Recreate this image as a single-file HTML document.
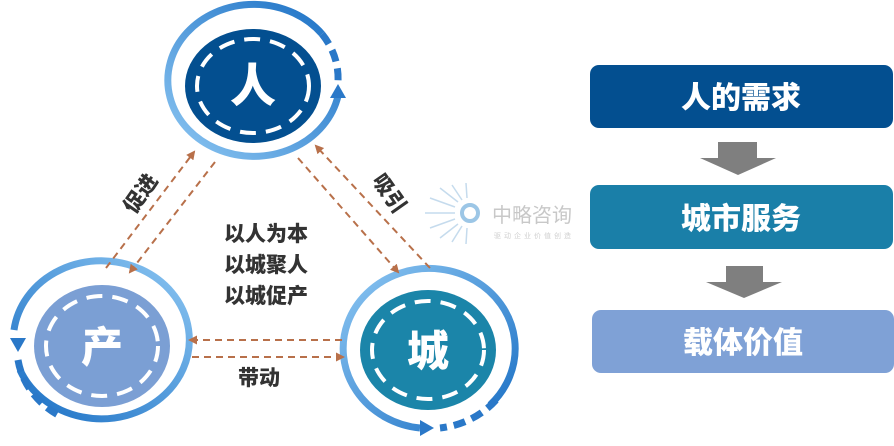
<!DOCTYPE html>
<html><head><meta charset="utf-8"><style>
html,body{margin:0;padding:0;background:#fff;width:894px;height:446px;overflow:hidden}
svg text{font-family:"Liberation Sans","Noto Sans CJK SC",sans-serif;font-weight:900}
</style></head><body>
<svg width="894" height="446" viewBox="0 0 894 446" xmlns="http://www.w3.org/2000/svg">
<defs>
<linearGradient id="g1" x1="0" y1="0" x2="1" y2="1"><stop offset="0" stop-color="#8cc6f2"/><stop offset="1" stop-color="#1a6fc4"/></linearGradient>
<linearGradient id="g2" x1="1" y1="0" x2="0" y2="1"><stop offset="0" stop-color="#8cc6f2"/><stop offset="1" stop-color="#1a6fc4"/></linearGradient>
<linearGradient id="g3" x1="0" y1="1" x2="1" y2="0"><stop offset="0" stop-color="#8cc6f2"/><stop offset="1" stop-color="#1a6fc4"/></linearGradient>
<marker id="ah" markerWidth="9" markerHeight="9" refX="7" refY="4.5" orient="auto" markerUnits="userSpaceOnUse"><path d="M0,0 L9,4.5 L0,9 z" fill="#b8704a"/></marker>
</defs>

<!-- 人 -->
<path d="M322,34 A86,76 0 1,0 338,96" fill="none" stroke="url(#g3)" stroke-width="7"/>
<path d="M322,34 A86,76 0 0,1 338,82" fill="none" stroke="#2a78c8" stroke-width="7" stroke-dasharray="12,7"/>
<path d="M330,84 L346,84 L338,98 z" fill="#2a78c8" transform="rotate(180 338 91)"/>
<ellipse cx="253" cy="86" rx="68" ry="57" fill="#034f90"/>
<ellipse cx="253" cy="86" rx="56" ry="47" fill="none" stroke="#fff" stroke-width="4" stroke-dasharray="16,10"/>
<text x="253" y="102" font-size="46" fill="#fff" text-anchor="middle">人</text>

<!-- 产 -->
<path d="M14,330 A88,79 0 1,1 20,370" fill="none" stroke="url(#g2)" stroke-width="7"/>
<path d="M18,360 A88,79 0 0,0 60,416" fill="none" stroke="#2a78c8" stroke-width="7" stroke-dasharray="12,7"/>
<path d="M10,338 L26,338 L18,352 z" fill="#2a78c8"/>
<ellipse cx="102" cy="346" rx="68" ry="61" fill="#7b9fd4"/>
<ellipse cx="102" cy="346" rx="56" ry="50" fill="none" stroke="#fff" stroke-width="4" stroke-dasharray="16,10"/>
<text x="102" y="362" font-size="42" fill="#fff" text-anchor="middle">产</text>

<!-- 城 -->
<path d="M420,428 A86,80 0 1,1 490,405" fill="none" stroke="url(#g1)" stroke-width="7"/>
<path d="M496,400 A86,80 0 0,1 440,428" fill="none" stroke="#2a78c8" stroke-width="7" stroke-dasharray="12,7"/>
<path d="M420,420 L434,428 L420,436 z" fill="#2a78c8"/>
<ellipse cx="428" cy="350" rx="68" ry="60" fill="#1b85a9"/>
<ellipse cx="428" cy="350" rx="56" ry="49" fill="none" stroke="#fff" stroke-width="4" stroke-dasharray="16,10"/>
<text x="428" y="366" font-size="42" fill="#fff" text-anchor="middle">城</text>

<!-- connectors -->
<g stroke="#b8704a" stroke-width="2" stroke-dasharray="7,5" fill="none">
<line x1="106" y1="268" x2="194" y2="152" marker-end="url(#ah)"/>
<line x1="215" y1="162" x2="130" y2="272" marker-end="url(#ah)"/>
<line x1="298" y1="158" x2="398" y2="272" marker-end="url(#ah)"/>
<line x1="430" y1="268" x2="316" y2="146" marker-end="url(#ah)"/>
<line x1="342" y1="340" x2="190" y2="340" marker-end="url(#ah)"/>
<line x1="192" y1="357" x2="343" y2="357" marker-end="url(#ah)"/>
</g>

<text x="140" y="201" font-size="21" fill="#333" text-anchor="middle" transform="rotate(-55 140 193)">促进</text>
<text x="390" y="201" font-size="21" fill="#333" text-anchor="middle" transform="rotate(55 390 193)">吸引</text>
<text x="266" y="241" font-size="21" fill="#333" text-anchor="middle">以人为本</text>
<text x="266" y="272" font-size="21" fill="#333" text-anchor="middle">以城聚人</text>
<text x="266" y="303" font-size="21" fill="#333" text-anchor="middle">以城促产</text>
<text x="259" y="385" font-size="21" fill="#333" text-anchor="middle">带动</text>

<!-- logo -->
<g opacity="0.45" stroke="#7fb0d8" stroke-width="1.5">
<line x1="425" y1="213" x2="455" y2="213"/><line x1="430" y1="198" x2="455" y2="207"/><line x1="430" y1="228" x2="455" y2="219"/>
<line x1="440" y1="188" x2="458" y2="202"/><line x1="440" y1="238" x2="458" y2="224"/>
<line x1="452" y1="185" x2="462" y2="200"/><line x1="452" y1="242" x2="462" y2="226"/>
<line x1="466" y1="183" x2="467" y2="198"/><line x1="466" y1="244" x2="467" y2="228"/>
</g>
<circle cx="470" cy="213" r="8" fill="none" stroke="#9cc6e6" stroke-width="4"/>
<text x="492" y="222" font-size="20" fill="#c8c8c8" style="font-weight:normal">中略咨询</text>
<text x="494" y="238" font-size="7" fill="#d0d0d0" style="font-weight:normal" letter-spacing="3">驱动企业价值创造</text>

<!-- right -->
<rect x="590" y="65" width="303" height="63" rx="9" fill="#034f90"/>
<text x="741" y="108" font-size="30" fill="#fff" text-anchor="middle">人的需求</text>
<path d="M718,142 H757 V158 H776 L738,175 L700,158 H718 z" fill="#7f7f7f"/>
<rect x="590" y="185" width="303" height="64" rx="9" fill="#1a7fa8"/>
<text x="741" y="229" font-size="30" fill="#fff" text-anchor="middle">城市服务</text>
<path d="M726,266 H763 V282 H782 L744,298 L706,282 H726 z" fill="#7f7f7f"/>
<rect x="592" y="310" width="302" height="63" rx="9" fill="#7fa1d6"/>
<text x="743" y="353" font-size="30" fill="#fff" text-anchor="middle">载体价值</text>
</svg>
</body></html>
